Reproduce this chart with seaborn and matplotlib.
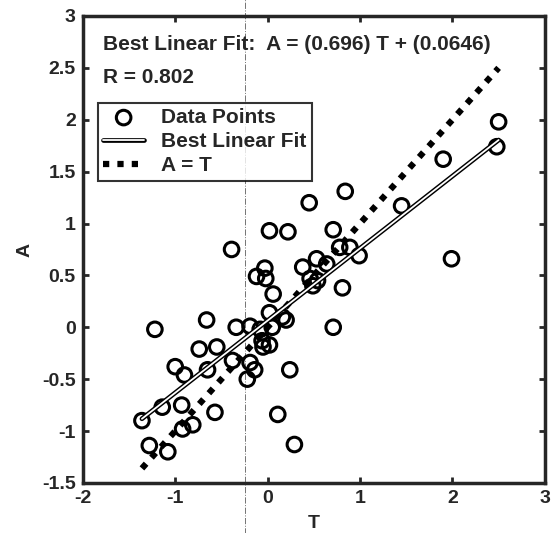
import numpy as np
import pandas as pd
import seaborn as sns
import matplotlib.pyplot as plt
import matplotlib.patheffects as pe

# data (targets T, outputs A)
T = [2.50, 2.48, 1.90, 1.99, 1.45, 0.84, 0.45, 0.02, 0.22, 0.71,
     -0.39, -0.03, -0.12, -0.02, 0.06, -0.66, -1.22, 0.38, 0.53, 0.64,
     0.78, 0.89, 0.99, 0.81, 0.71, 0.46, 0.49, 0.54, 0.02, 0.16,
     0.20, -0.34, -0.19, -0.74, -0.55, -0.06, 0.02, -0.05, -0.38, -0.19,
     -0.14, -0.22, -1.00, -0.90, -0.65, -1.14, -0.93, -0.57, -1.36, -0.81,
     -0.92, -1.28, -1.08, 0.11, 0.24, 0.29, 0.05, -0.08]
A = [1.98, 1.74, 1.62, 0.66, 1.17, 1.31, 1.20, 0.93, 0.92, 0.94,
     0.75, 0.57, 0.49, 0.47, 0.32, 0.07, -0.02, 0.58, 0.66, 0.61,
     0.77, 0.77, 0.69, 0.38, 0.00, 0.47, 0.40, 0.45, 0.14, 0.10,
     0.07, 0.00, 0.01, -0.21, -0.19, -0.13, -0.17, -0.19, -0.32, -0.34,
     -0.41, -0.50, -0.38, -0.46, -0.41, -0.77, -0.75, -0.82, -0.90, -0.94,
     -0.98, -1.14, -1.20, -0.84, -0.41, -1.13, 0.00, -0.02]

slope = 0.696
intercept = 0.0646
r_value = 0.802

xticks = [-2, -1, 0, 1, 2, 3]
yticks = [-1.5, -1, -0.5, 0, 0.5, 1, 1.5, 2, 2.5, 3]

df = pd.DataFrame({'T': T, 'A': A})
t_line = np.array([min(T), max(T)])
lines = pd.DataFrame({'T': t_line, 'fit': slope * t_line + intercept, 'ident': t_line})

sns.set_style('ticks')
plt.rcParams['font.family'] = ['Liberation Sans Narrow', 'Liberation Sans', 'DejaVu Sans']
plt.rcParams['font.weight'] = 'bold'

fig = plt.figure(figsize=(5.52, 5.33), dpi=100)
ax = fig.add_axes([0.150, 0.094, 0.837, 0.876])

sns.scatterplot(data=df, x='T', y='A', ax=ax, marker='o', s=110,
                facecolor='none', edgecolor='black', linewidth=2.2,
                label='Data Points', zorder=3)
sns.lineplot(data=lines, x='T', y='fit', ax=ax, color='white', linewidth=1.3,
             label='Best Linear Fit', zorder=4,
             path_effects=[pe.withStroke(linewidth=3.4, foreground='black')])
sns.lineplot(data=lines, x='T', y='ident', ax=ax, color='black', linewidth=4.5,
             linestyle=(0, (1, 1.3)), dash_capstyle='butt', label='A = T', zorder=2)

# faint fold line from the scan
ax.axvline(-0.25, ymin=-0.2, ymax=1.1, clip_on=False, color='0.45',
           linewidth=0.7, linestyle='-.', zorder=1)

ax.set_xlim(-2, 3)
ax.set_ylim(-1.5, 3)
ax.set_xticks(xticks)
ax.set_yticks(yticks)
ax.set_xticklabels([f'{v:g}' for v in xticks])
ax.set_yticklabels([f'{v:g}' for v in yticks])
ax.tick_params(direction='in', length=4, width=2, labelsize=14,
               top=True, right=True, pad=5)
for s in ax.spines.values():
    s.set_linewidth(2.5)
    s.set_visible(True)
ax.set_xlabel('T', fontsize=14, fontweight='bold', labelpad=6)
ax.set_ylabel('A', fontsize=14, fontweight='bold', labelpad=6)

ax.text(0.043, 0.938, f'Best Linear Fit:  A = ({slope}) T + ({intercept})',
        transform=ax.transAxes, fontsize=15, fontweight='bold', va='center')
ax.text(0.043, 0.869, f'R = {r_value}', transform=ax.transAxes,
        fontsize=15, fontweight='bold', va='center')

leg = ax.legend(loc='upper left', bbox_to_anchor=(0.032, 0.814), fontsize=15,
                frameon=True, fancybox=False, edgecolor='black',
                handlelength=2.0, handletextpad=0.8, borderpad=0.25,
                labelspacing=0.25, borderaxespad=0)
leg.get_frame().set_linewidth(1.5)

fig.savefig('out.png', dpi=100)
